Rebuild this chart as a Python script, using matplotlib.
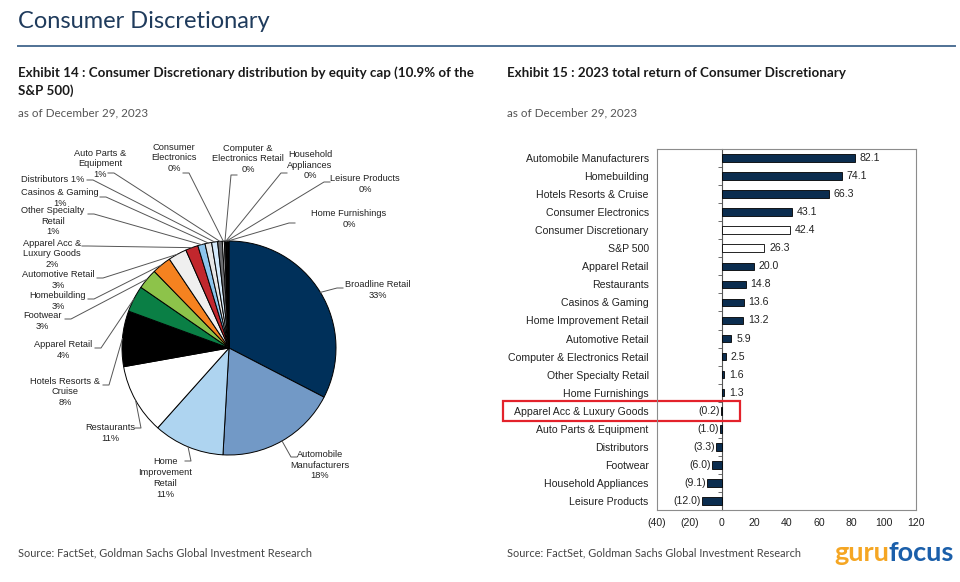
import matplotlib
matplotlib.use("Agg")
import matplotlib.pyplot as plt
import numpy as np
from matplotlib.patches import Rectangle

W, H = 960, 582

# Exhibit 14: share of sector equity cap, clockwise from 12 o'clock
pie_names = ["Broadline Retail", "Automobile\nManufacturers", "Home\nImprovement\nRetail",
             "Restaurants", "Hotels Resorts &\nCruise", "Apparel Retail", "Footwear",
             "Homebuilding", "Automotive Retail", "Apparel Acc &\nLuxury Goods",
             "Other Specialty\nRetail", "Casinos & Gaming", "Distributors",
             "Auto Parts &\nEquipment", "Consumer\nElectronics", "Computer &\nElectronics Retail",
             "Household\nAppliances", "Leisure Products", "Home Furnishings"]
pie_shares = [32.6, 18.3, 10.7, 10.6, 8.4, 4.0, 3.1, 2.9, 2.8, 1.9,
              1.1, 1.0, 0.9, 0.7, 0.3, 0.2, 0.1, 0.1, 0.3]
pie_colors = ["#00305a", "#7299c6", "#aed4f0", "#ffffff", "#000000", "#0a7f45", "#8dc34a",
              "#f58220", "#efefef", "#c1272d", "#8cc4ec", "#e6e6e6", "#d4eafb", "#6d6e71",
              "#ffffff", "#a0a0a0", "#404040", "#ffffff", "#000000"]

# Exhibit 15: 2023 total return (%)
ret_cats = ["Automobile Manufacturers", "Homebuilding", "Hotels Resorts & Cruise",
            "Consumer Electronics", "Consumer Discretionary", "S&P 500", "Apparel Retail",
            "Restaurants", "Casinos & Gaming", "Home Improvement Retail", "Automotive Retail",
            "Computer & Electronics Retail", "Other Specialty Retail", "Home Furnishings",
            "Apparel Acc & Luxury Goods", "Auto Parts & Equipment", "Distributors", "Footwear",
            "Household Appliances", "Leisure Products"]
ret_values = [82.1, 74.1, 66.3, 43.1, 42.4, 26.3, 20.0, 14.8, 13.6, 13.2, 5.9,
              2.5, 1.6, 1.3, -0.2, -1.0, -3.3, -6.0, -9.1, -12.0]
benchmarks = ["Consumer Discretionary", "S&P 500"]
highlight = "Apparel Acc & Luxury Goods"

# layout (pixels from top-left)
label_xy = [(378, 290), (320, 465), (165, 478), (110, 433), (65, 392), (63, 350), (42, 321),
            (58, 301), (58, 280), (52, 254), (53, 221), (60, 198), (53, 180), (100, 164),
            (174, 158), (248, 159), (310, 165), (365, 184), (349, 219)]
leader_xy = [(343, 288), (297, 457), (185, 461), (135, 428), (103, 385), (95, 348), (65, 319),
             (88, 299), (97, 278), (82, 246), (88, 214), (100, 197), (87, 180), (108, 173),
             (183, 173), (237, 175), (287, 173), (330, 182), (295, 223)]

plt.rcParams['font.family'] = ['Liberation Sans', 'DejaVu Sans']
fig = plt.figure(figsize=(9.6, 5.82), dpi=100)


def fx(x):
    return x / W


def fy(y):
    return 1 - y / H


bg = fig.add_axes([0, 0, 1, 1])
wedges, _ = bg.pie(pie_shares, colors=pie_colors, startangle=90, counterclock=False,
                   center=(229, H - 348), radius=107, frame=True,
                   wedgeprops=dict(edgecolor="black", linewidth=0.7))
bg.set_xlim(0, W)
bg.set_ylim(0, H)
bg.axis("off")

for w, name, share, (lx, ly), (sx, sy) in zip(wedges, pie_names, pie_shares, label_xy, leader_xy):
    mid = np.deg2rad((w.theta1 + w.theta2) / 2)
    ex = w.center[0] + w.r * np.cos(mid)
    ey = w.center[1] + w.r * np.sin(mid)
    step = 6 if sx < w.center[0] else -6
    bg.plot([sx, sx + step, ex], [H - sy, H - sy, ey], color="#555555", lw=0.7)
    sep = " " if name == "Distributors" else "\n"
    fig.text(fx(lx), fy(ly), f"{name}{sep}{share:.0f}%", ha="center", va="center",
             fontsize=6.7, color="#222222", linespacing=1.25)

# header
fig.text(fx(18), fy(22), "Consumer Discretionary", family="Lato", fontsize=17,
         color="#1f3b5c", va="center")
bg.plot([18, 955], [H - 46, H - 46], color="#4f7195", lw=1.4)

fig.text(fx(18), fy(73), "Exhibit 14 : Consumer Discretionary distribution by equity cap (10.9% of the",
         family="Lato", weight="bold", fontsize=9.6, color="#1a1a1a", va="center")
fig.text(fx(18), fy(91), "S&P 500)", family="Lato", weight="bold", fontsize=9.6,
         color="#1a1a1a", va="center")
fig.text(fx(507), fy(73), "Exhibit 15 : 2023 total return of Consumer Discretionary",
         family="Lato", weight="bold", fontsize=9.6, color="#1a1a1a", va="center")
for x0 in (18, 507):
    fig.text(fx(x0), fy(113), "as of December 29, 2023", family="Lato", fontsize=8.4,
             color="#555555", va="center")
    fig.text(fx(x0), fy(553), "Source: FactSet, Goldman Sachs Global Investment Research",
             family="Lato", fontsize=7.9, color="#444444", va="center")

# bar chart
ax = fig.add_axes([fx(657), fy(510), (916 - 657) / W, (510 - 149) / H])
y = np.arange(len(ret_cats))
face = ["white" if c in benchmarks else "#0b2d4f" for c in ret_cats]
ax.barh(y, ret_values, height=0.42, color=face, edgecolor="black", linewidth=0.6)
ax.set_xlim(-40, 120)
ax.set_ylim(len(ret_cats) - 0.5, -0.5)
ax.set_yticks(y, ret_cats)
ticks = np.arange(-40, 121, 20)
ax.set_xticks(ticks, [f"({abs(t)})" if t < 0 else f"{t}" for t in ticks])
ax.tick_params(axis="y", length=0, pad=6, labelsize=7.6, labelcolor="#222222")
ax.tick_params(axis="x", length=0, pad=6, labelsize=7.6, labelcolor="#222222")
for s in ax.spines.values():
    s.set_color("#8c8c8c")
    s.set_linewidth(0.8)

sec = ax.secondary_yaxis(0.25)
sec.set_yticks(np.arange(len(ret_cats) + 1) - 0.5)
sec.set_yticklabels([])
sec.tick_params(length=3, width=0.6, color="#555555")
sec.spines["left"].set_color("#555555")
sec.spines["left"].set_linewidth(0.8)

for yi, v in zip(y, ret_values):
    if v < 0:
        ax.annotate(f"({abs(v):.1f})", (v, yi), xytext=(-1, 0), textcoords="offset points",
                    ha="right", va="center", fontsize=7.6, color="#222222")
    else:
        ax.annotate(f"{v:.1f}", (v, yi), xytext=(3.5, 0), textcoords="offset points",
                    ha="left", va="center", fontsize=7.6, color="#222222")

hi = ret_cats.index(highlight)
ax.add_patch(Rectangle((-135, hi - 0.55), 146, 1.1, fill=False, edgecolor="#e3222b",
                       lw=1.6, clip_on=False))

# logo
t1 = fig.text(fx(834), fy(553), "guru", family="Lato", weight="bold", fontsize=19.5,
              color="#f5a623", va="center")
fig.canvas.draw()
bb = t1.get_window_extent()
fig.text(bb.x1 / W, fy(553), "focus", family="Lato", weight="bold", fontsize=19.5,
         color="#1b5faa", va="center")

fig.savefig("out.png", dpi=100)
